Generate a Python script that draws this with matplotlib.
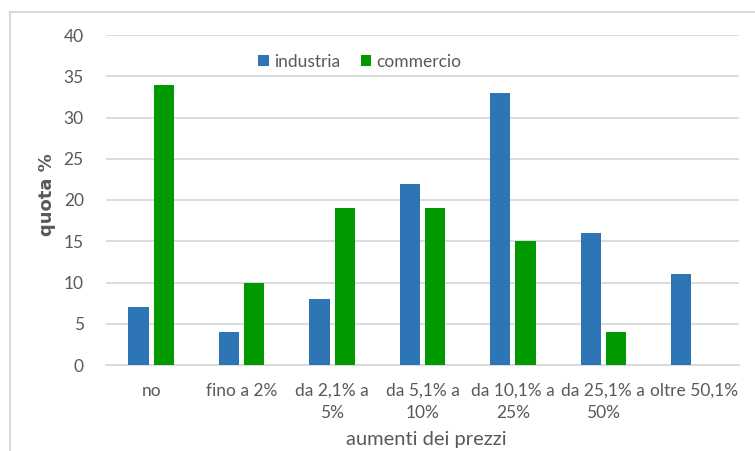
import matplotlib.pyplot as plt
import numpy as np
from matplotlib.lines import Line2D

categories = ['no', 'fino a 2%', 'da 2,1% a\n5%', 'da 5,1% a\n10%',
              'da 10,1% a\n25%', 'da 25,1% a\n50%', 'oltre 50,1%']
industria = [7, 4, 8, 22, 33, 16, 11]
commercio = [34, 10, 19, 19, 15, 4, 0]

blue = '#2E75B6'
green = '#009900'
grey = '#595959'

plt.rcParams['font.family'] = ['Lato', 'DejaVu Sans']

fig = plt.figure(figsize=(7.55, 4.51), dpi=100)
ax = fig.add_axes([106/755, 1-365/451, 633/755, 330/451])

x = np.arange(len(categories))
w = 0.225
off = 0.14
ax.bar(x - off, industria, w, color=blue, label='industria', zorder=3)
ax.bar(x + off, commercio, w, color=green, label='commercio', zorder=3)

ax.set_xlim(-0.5, len(categories) - 0.5)
ax.set_ylim(0, 40)
ax.set_yticks(range(0, 41, 5))
ax.yaxis.grid(True, color='#D9D9D9', linewidth=1.3, zorder=0)
ax.set_axisbelow(True)
for s in ['top', 'right', 'left']:
    ax.spines[s].set_visible(False)
ax.spines['bottom'].set_color('#D9D9D9')
ax.spines['bottom'].set_linewidth(1.3)

ax.set_xticks(x)
ax.set_xticklabels(categories, linespacing=1.45)
ax.tick_params(axis='x', length=0, pad=13, labelsize=12.5, labelcolor=grey)
ax.tick_params(axis='y', length=0, pad=16, labelsize=12.5, labelcolor=grey)

ax.set_xlabel('aumenti dei prezzi', fontsize=14.5, color=grey, labelpad=6)
ax.xaxis.set_label_coords((426 - 106) / 633, -(440 - 365) / 330)
ax.xaxis.label.set_va('center')
ax.set_ylabel('quota %', fontsize=13, color=grey, fontweight='bold',
              family=['DejaVu Sans'])
ax.yaxis.set_label_coords(-(106 - 56) / 633, (365 - 195) / 330)

leg = ax.legend(loc='center', bbox_to_anchor=(360/755, 1-62/451),
                bbox_transform=fig.transFigure, ncol=2, frameon=False,
                fontsize=12.5, handlelength=0.6, handleheight=0.6,
                handletextpad=0.3, columnspacing=1.2)
for t in leg.get_texts():
    t.set_color(grey)

# outer frame (top and left edges visible)
fig.add_artist(Line2D([10/755, 1], [1-12/451, 1-12/451], color='#D9D9D9',
                      linewidth=1.5, transform=fig.transFigure))
fig.add_artist(Line2D([10/755, 10/755], [0, 1-12/451], color='#D9D9D9',
                      linewidth=1.5, transform=fig.transFigure))

fig.savefig('out.png', dpi=100)
